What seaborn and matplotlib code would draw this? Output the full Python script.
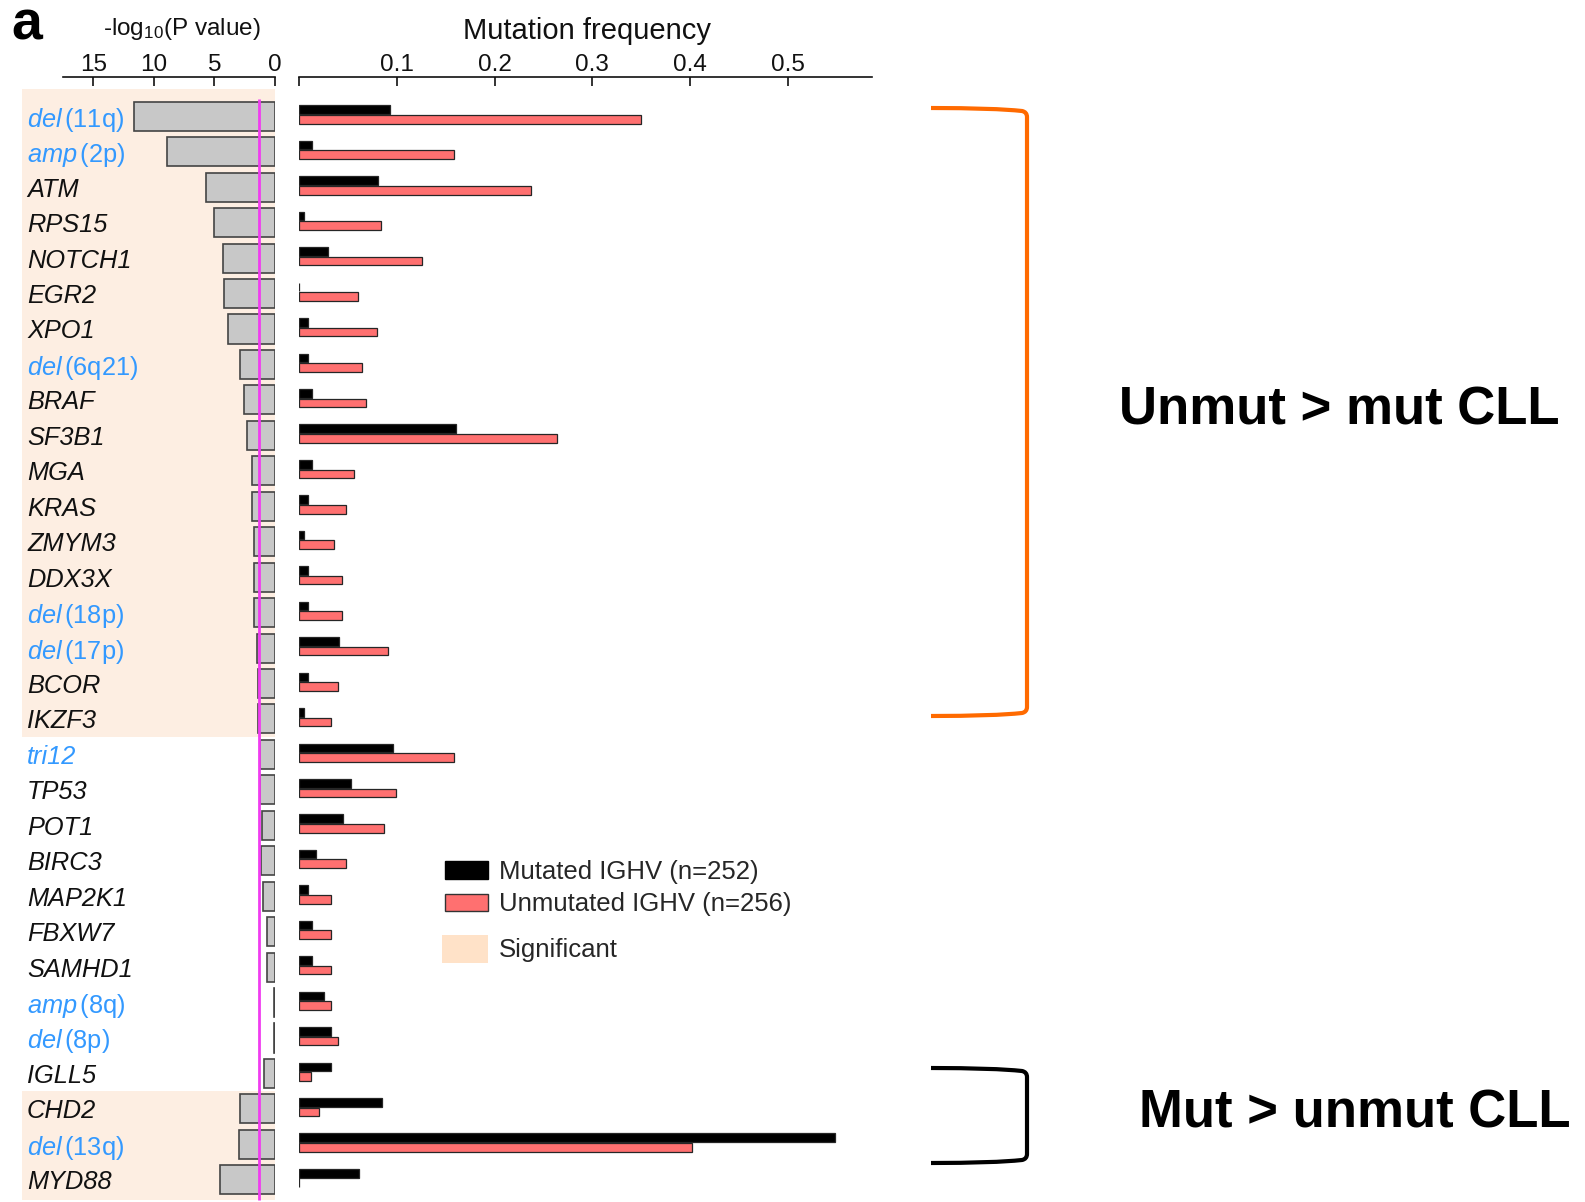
import numpy as np
import pandas as pd
import matplotlib
matplotlib.use("Agg")
import matplotlib.pyplot as plt
import seaborn as sns
from matplotlib.patches import Rectangle, Patch, PathPatch
from matplotlib.path import Path
from matplotlib.transforms import blended_transform_factory
from matplotlib import font_manager as fm

# ---------------------------------------------------------------- data
labels = ["del(11q)", "amp(2p)", "ATM", "RPS15", "NOTCH1", "EGR2", "XPO1",
          "del(6q21)", "BRAF", "SF3B1", "MGA", "KRAS", "ZMYM3", "DDX3X",
          "del(18p)", "del(17p)", "BCOR", "IKZF3", "tri12", "TP53", "POT1",
          "BIRC3", "MAP2K1", "FBXW7", "SAMHD1", "amp(8q)", "del(8p)",
          "IGLL5", "CHD2", "del(13q)", "MYD88"]

# cytogenetic aberrations (blue labels)
cytogenetic = ["del(11q)", "amp(2p)", "del(6q21)", "del(18p)", "del(17p)",
               "tri12", "amp(8q)", "del(8p)", "del(13q)"]

neglog10_p = [11.6, 8.9, 5.7, 5.0, 4.3, 4.2, 3.9, 2.9, 2.6, 2.3, 1.9, 1.9,
              1.7, 1.7, 1.7, 1.5, 1.4, 1.4, 1.25, 1.2, 1.1, 1.15, 1.0, 0.65,
              0.65, 0.12, 0.12, 0.9, 2.9, 2.95, 4.5]

freq_mutated = [0.093, 0.013, 0.081, 0.005, 0.029, 0.0, 0.009, 0.009, 0.013,
                0.160, 0.013, 0.009, 0.005, 0.009, 0.009, 0.041, 0.009, 0.005,
                0.096, 0.053, 0.045, 0.017, 0.009, 0.013, 0.013, 0.025, 0.032,
                0.032, 0.085, 0.549, 0.061]

freq_unmutated = [0.350, 0.158, 0.237, 0.084, 0.126, 0.060, 0.080, 0.064,
                  0.068, 0.264, 0.056, 0.048, 0.036, 0.044, 0.044, 0.091,
                  0.040, 0.032, 0.158, 0.099, 0.087, 0.048, 0.032, 0.032,
                  0.032, 0.032, 0.040, 0.012, 0.020, 0.402, 0.0]

group_names = ["Mutated IGHV (n=252)", "Unmutated IGHV (n=256)"]

# significant blocks (row index ranges, inclusive)
sig_unmut_higher = (0, 17)
sig_mut_higher = (28, 30)

p_threshold = 0.05

x_ticks_p = [15, 10, 5, 0]
x_ticks_freq = [0, 0.1, 0.2, 0.3, 0.4, 0.5]

# ---------------------------------------------------------------- style
sns.set_theme(style="white")


def has_font(name):
    try:
        fm.findfont(fm.FontProperties(family=name), fallback_to_default=False)
        return True
    except ValueError:
        return False


BASE = "Liberation Sans"
NARROW = "Liberation Sans Narrow" if has_font("Liberation Sans Narrow") else BASE
tick_size = 21 if NARROW != BASE else 17.5
plt.rcParams["font.family"] = [BASE, "DejaVu Sans"]
plt.rcParams["mathtext.fontset"] = "custom"
plt.rcParams["mathtext.rm"] = BASE
plt.rcParams["mathtext.it"] = BASE + ":italic"
plt.rcParams["mathtext.bf"] = BASE + ":bold"

W, H = 1585, 1202
fig = plt.figure(figsize=(W / 100, H / 100), dpi=100)


def fx(x):
    return x / W


def fy(y):
    return 1 - y / H


ax_bottom = fy(1200)
ax_height = fy(89) - fy(1200)
axL = fig.add_axes([fx(63), ax_bottom, fx(275) - fx(63), ax_height])
axR = fig.add_axes([fx(299.3), ax_bottom, fx(871.5) - fx(299.3), ax_height])
for ax in (axL, axR):
    ax.set_facecolor("none")

ylim = (30.57, -0.77)


def style_top_axis(ax):
    for s in ("left", "right", "bottom"):
        ax.spines[s].set_visible(False)
    ax.spines["top"].set_position(("outward", 8.6))
    ax.spines["top"].set_linewidth(1.2)
    ax.spines["top"].set_color("#111111")
    ax.tick_params(axis="x", direction="in", length=6.5, width=1.2,
                   labelsize=tick_size, pad=0.8, colors="#111111",
                   labelfontfamily=NARROW)


# ---------------------------------------------------------------- left: -log10 P
sns.barplot(x=neglog10_p, y=labels, orient="h", color="#C8C8C8",
            edgecolor="#444444", linewidth=1.2, width=0.82, saturation=1,
            ax=axL)
axL.set_xlim(17.5, 0)
axL.set_ylim(*ylim)
axL.set_xlabel("")
axL.set_ylabel("")
axL.xaxis.tick_top()
axL.set_xticks(x_ticks_p)
axL.set_xticklabels([str(t) for t in x_ticks_p])
style_top_axis(axL)


def display_label(name):
    for prefix in ("del", "amp"):
        if name.startswith(prefix + "("):
            return r"$\mathit{" + prefix + r"}\,$" + name[len(prefix):]
    return name


axL.set_yticks(range(len(labels)))
axL.set_yticklabels([display_label(n) for n in labels], ha="left",
                    fontsize=18.3)
axL.tick_params(axis="y", length=0, pad=25.9)
for txt, name in zip(axL.get_yticklabels(), labels):
    if name in cytogenetic:
        txt.set_color("#3399FF")
    else:
        txt.set_color("#111111")
    if "(" not in name:
        txt.set_fontstyle("italic")

# significance shading behind labels and bars
band_tr = blended_transform_factory(fig.transFigure, axL.transData)
for lo, hi in (sig_unmut_higher, sig_mut_higher):
    top = lo - 0.5 if lo > 0 else ylim[1]
    bottom = hi + 0.5 if hi < len(labels) - 1 else ylim[0]
    axL.add_patch(Rectangle((fx(22), top), fx(275) - fx(22), bottom - top,
                            transform=band_tr, facecolor="#FDEEE2",
                            edgecolor="none", zorder=0.2, clip_on=False))

axL.vlines(-np.log10(p_threshold), -0.5, ylim[0], color="#F03CF0",
           linewidth=2.0, zorder=5, clip_on=False)

# ---------------------------------------------------------------- right: frequencies
df = pd.DataFrame({
    "gene": labels * 2,
    "group": [group_names[0]] * len(labels) + [group_names[1]] * len(labels),
    "freq": freq_mutated + freq_unmutated,
})
sns.barplot(data=df, x="freq", y="gene", hue="group", hue_order=group_names,
            palette={group_names[0]: "#000000", group_names[1]: "#FF7070"},
            orient="h", width=0.54, gap=0.1, saturation=1,
            edgecolor="#262626", linewidth=0.9, legend=False, ax=axR)
axR.set_xlim(0, 0.586)
axR.set_ylim(ylim[0] + 0.05, ylim[1] + 0.05)
axR.set_xlabel("")
axR.set_ylabel("")
axR.set_yticks([])
axR.xaxis.tick_top()
axR.set_xticks(x_ticks_freq)
axR.set_xticklabels(["" if t == 0 else f"{t:g}" for t in x_ticks_freq])
style_top_axis(axR)

# ---------------------------------------------------------------- titles
fig.text(fx(182), fy(29), r"-log$_{10}$(P value)", ha="center", va="center",
         fontsize=17.5, color="#111111")
fig.text(fx(587), fy(31), "Mutation frequency", ha="center", va="center",
         fontsize=21, color="#111111")
fig.text(fx(27), fy(25), "a", ha="center", va="center", fontsize=40,
         fontweight="bold", color="#000000")

# ---------------------------------------------------------------- legends
fs_leg = 18.5
fs_px = fs_leg * 100 / 72
fig.legend([Patch(facecolor="#000000", edgecolor="#000000"),
            Patch(facecolor="#FF7070", edgecolor="#333333")],
           group_names, loc="upper left",
           bbox_to_anchor=(fx(445), fy(860)), frameon=False,
           fontsize=fs_leg, handlelength=43 / fs_px, handleheight=17 / fs_px,
           handletextpad=11 / fs_px, labelspacing=0.32, borderpad=0,
           borderaxespad=0)
fig.legend([Patch(facecolor="#FFE2C8", edgecolor="none")], ["Significant"],
           loc="upper left", bbox_to_anchor=(fx(442), fy(935)),
           frameon=False, fontsize=fs_leg, handlelength=46 / fs_px,
           handleheight=33 / fs_px, handletextpad=11 / fs_px, borderpad=0,
           borderaxespad=0)

# ---------------------------------------------------------------- brackets


def bracket(y_top, y_bot, color):
    x0, x1 = 931, 1027
    pts = [(x0, y_top), (995, y_top), (x1 - 5, y_top + 3),
           (x1, y_top + 4), (x1, y_top + 9),
           (x1, y_bot - 9),
           (x1, y_bot - 4), (x1 - 5, y_bot - 3),
           (995, y_bot), (x0, y_bot)]
    codes = [Path.MOVETO, Path.CURVE3, Path.CURVE3, Path.CURVE3, Path.CURVE3,
             Path.LINETO, Path.CURVE3, Path.CURVE3, Path.CURVE3, Path.CURVE3]
    verts = [(fx(x), fy(y)) for x, y in pts]
    fig.patches.append(PathPatch(Path(verts, codes), transform=fig.transFigure,
                                 facecolor="none", edgecolor=color,
                                 linewidth=3.0, capstyle="butt",
                                 joinstyle="round", figure=fig))


bracket(108, 716, "#FF6A00")
bracket(1068, 1163, "#000000")

fig.text(fx(1339), fy(411), "Unmut > mut CLL", ha="center", va="center",
         fontsize=38, fontweight="bold", color="#000000")
if NARROW != BASE:
    fig.text(fx(1355), fy(1113), "Mut > unmut CLL", ha="center",
             va="center", fontsize=45, fontweight="bold", family=NARROW,
             color="#000000")
else:
    fig.text(fx(1355), fy(1113), "Mut > unmut CLL", ha="center",
             va="center", fontsize=38, fontweight="bold", color="#000000")

fig.savefig("out.png", dpi=100)
